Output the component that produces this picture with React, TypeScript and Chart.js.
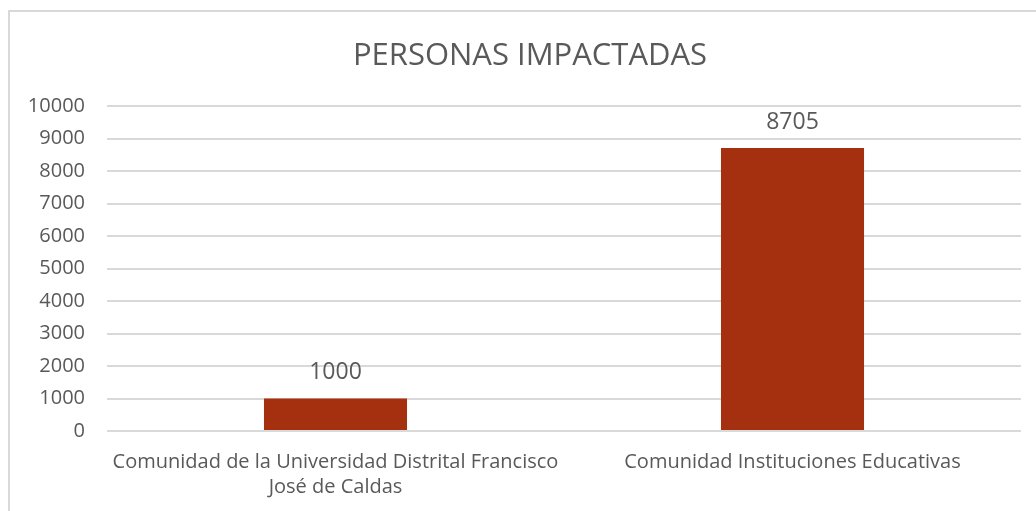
import React, { useEffect, useRef } from "react";
import { Chart, registerables } from "chart.js";

Chart.register(...registerables);

const categories: (string | string[])[] = [
  ["Comunidad de la Universidad Distrital Francisco", "José de Caldas"],
  "Comunidad Instituciones Educativas",
];
const values: number[] = [1000, 8705];
const chartTitle = "PERSONAS IMPACTADAS";
const yMin = 0;
const yMax = 10000;
const yStep = 1000;

const FONT = "'Open Sans', sans-serif";
const TEXT = "#595959";
const GRID = "#d9d9d9";
const BAR = "#A5300F";

const dataLabels = {
  id: "dataLabels",
  afterDatasetsDraw(chart: any) {
    const ctx = chart.ctx;
    ctx.save();
    ctx.font = `23px ${FONT}`;
    ctx.fillStyle = TEXT;
    ctx.textAlign = "center";
    ctx.textBaseline = "middle";
    chart.data.datasets.forEach((ds: any, i: number) => {
      const meta = chart.getDatasetMeta(i);
      meta.data.forEach((bar: any, j: number) => {
        ctx.fillText(String(ds.data[j]), bar.x, bar.y - 26);
      });
    });
    ctx.restore();
  },
};

const titlePlugin = {
  id: "customTitle",
  afterDraw(chart: any) {
    const ctx = chart.ctx;
    ctx.save();
    ctx.font = `31px ${FONT}`;
    ctx.fillStyle = TEXT;
    ctx.textAlign = "center";
    ctx.textBaseline = "alphabetic";
    ctx.fillText(chartTitle, chart.width / 2 + 12, 65);
    ctx.restore();
  },
};

export default function App() {
  const ref = useRef<HTMLCanvasElement>(null);
  useEffect(() => {
    if (!ref.current) return;
    const chart = new Chart(ref.current, {
      type: "bar",
      data: {
        labels: categories,
        datasets: [
          {
            data: values,
            backgroundColor: BAR,
            borderWidth: 0,
            barPercentage: 0.313,
            categoryPercentage: 1,
          },
        ],
      },
      options: {
        animation: false,
        responsive: false,
        maintainAspectRatio: false,
        layout: { padding: { left: 0, right: 15, top: 106, bottom: 0 } },
        plugins: {
          legend: { display: false },
          tooltip: { enabled: false },
          title: { display: false },
        },
        scales: {
          x: {
            grid: { display: false, drawTicks: false },
            border: { display: false },
            ticks: {
              color: TEXT,
              font: { family: FONT, size: 20, lineHeight: 1.25 },
              padding: 19,
              maxRotation: 0,
              autoSkip: false,
            },
            afterFit(scale: any) {
              scale.height = 80;
            },
          },
          y: {
            min: yMin,
            max: yMax,
            grid: { color: GRID, lineWidth: 2, drawTicks: false },
            border: { display: false },
            ticks: {
              stepSize: yStep,
              color: TEXT,
              font: { family: FONT, size: 20 },
              padding: 22,
              callback: (v: any) => String(v),
            },
            afterFit(scale: any) {
              scale.width = 107;
            },
          },
        },
      },
      plugins: [dataLabels, titlePlugin],
    });
    return () => chart.destroy();
  }, []);

  return (
    <div
      style={{
        position: "fixed",
        left: 0,
        top: 0,
        width: 1036,
        height: 511,
        overflow: "hidden",
        background: "#fff",
      }}
    >
      <div
        style={{
          position: "absolute",
          left: 8,
          top: 10,
          width: 1100,
          height: 600,
          border: `2px solid ${GRID}`,
          boxSizing: "border-box",
        }}
      />
      <canvas
        ref={ref}
        width={1036}
        height={511}
        style={{ position: "absolute", left: 0, top: 0, width: 1036, height: 511 }}
      />
    </div>
  );
}
